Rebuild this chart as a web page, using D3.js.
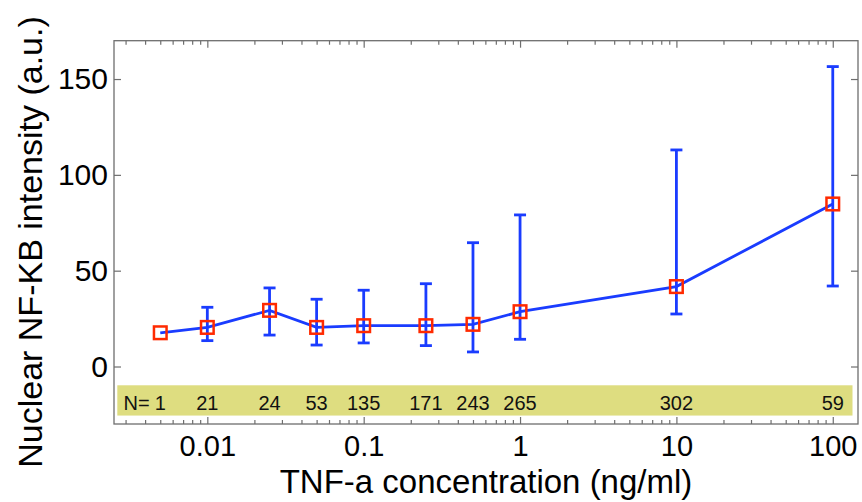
<!DOCTYPE html>
<html>
<head>
<meta charset="utf-8">
<script src="https://cdn.jsdelivr.net/npm/d3@7"></script>
<style>
  html, body { margin: 0; padding: 0; background: #fff; }
  svg { display: block; font-family: "Liberation Sans", Arial, Helvetica, sans-serif; }
</style>
</head>
<body>
<svg id="chart" width="862" height="502"></svg>
<script>
// ---- data ----
const concentrations = [0.005, 0.01, 0.025, 0.05, 0.1, 0.25, 0.5, 1, 10, 100];
const meanValues     = [17.6, 20.4, 29.3, 20.4, 21.3, 21.3, 22.0, 28.6, 41.7, 84.8];
const upperValues    = [17.6, 30.9, 41.0, 35.1, 39.8, 43.2, 64.6, 79.1, 113.0, 156.5];
const lowerValues    = [17.6, 13.5, 16.4, 11.2, 12.3, 10.9, 7.6, 14.2, 27.4, 42.0];
const nCounts        = [1, 21, 24, 53, 135, 171, 243, 265, 302, 59];
const xTickValues    = [0.01, 0.1, 1, 10, 100];
const xTickLabels    = ["0.01", "0.1", "1", "10", "100"];
const yTickValues    = [0, 50, 100, 150];
const yTickLabels    = ["0", "50", "100", "150"];
const xTitle = "TNF-a concentration (ng/ml)";
const yTitle = "Nuclear NF-KB intensity (a.u.)";

// ---- layout ----
const L = 114, R = 858, T = 40.7, B = 424;
const svg = d3.select("#chart");
const x = d3.scaleLog().domain([0.00253, 145]).range([L, R]);
const y = d3.scaleLinear().domain([-30, 170]).range([B, T]);

const axisColor = "#6e6e6e";
const blue = "#1a3cff";
const red = "#ff2a00";

// N band
svg.append("rect")
  .attr("x", L + 3.3).attr("y", y(-9.8))
  .attr("width", R - 5.5 - (L + 3.3)).attr("height", y(-25.6) - y(-9.8))
  .attr("fill", "#dedd80");

const nG = svg.append("g").attr("font-size", 20).attr("fill", "#111");
const nTexts = nG.selectAll("text.n").data(nCounts).join("text")
  .attr("class", "n")
  .attr("x", (d, i) => x(concentrations[i]))
  .attr("y", 410)
  .attr("text-anchor", "middle")
  .text(d => d);
const firstW = nTexts.node().getComputedTextLength();
nG.append("text")
  .attr("x", x(concentrations[0]) - firstW / 2 - 5)
  .attr("y", 410)
  .attr("text-anchor", "end")
  .text("N=");

// axes
const minorX = x.ticks().filter(v => !xTickValues.some(t => Math.abs(t - v) / t < 1e-9));

function styleAxis(g, fs) {
  g.select(".domain").remove();
  g.selectAll(".tick line").attr("stroke", axisColor).attr("stroke-width", 1.2);
  g.selectAll(".tick text").attr("fill", "#000").attr("font-size", fs || 30)
    .attr("font-family", "Liberation Sans, Arial, sans-serif");
}

svg.append("g").attr("transform", `translate(0,${B})`)
  .call(d3.axisBottom(x).tickValues(minorX).tickSize(-4).tickFormat(""))
  .call(styleAxis);
svg.append("g").attr("transform", `translate(0,${B})`)
  .call(d3.axisBottom(x).tickValues(xTickValues).tickSize(-7).tickPadding(11.5)
        .tickFormat((d, i) => xTickLabels[i]))
  .call(g => styleAxis(g, 29));
svg.append("g").attr("transform", `translate(0,${T})`)
  .call(d3.axisTop(x).tickValues(minorX).tickSize(-4).tickFormat(""))
  .call(styleAxis);
svg.append("g").attr("transform", `translate(0,${T})`)
  .call(d3.axisTop(x).tickValues(xTickValues).tickSize(-7).tickFormat(""))
  .call(styleAxis);
svg.append("g").attr("transform", `translate(${L},0)`)
  .call(d3.axisLeft(y).tickValues(yTickValues).tickSize(-7).tickPadding(6)
        .tickFormat((d, i) => yTickLabels[i]))
  .call(g => styleAxis(g, 30));
svg.append("g").attr("transform", `translate(${R},0)`)
  .call(d3.axisRight(y).tickValues(yTickValues).tickSize(-7).tickFormat(""))
  .call(styleAxis);

// box
svg.append("rect").attr("x", L).attr("y", T).attr("width", R - L).attr("height", B - T)
  .attr("fill", "none").attr("stroke", axisColor).attr("stroke-width", 1.3);

// data
const pts = concentrations.map((c, i) => ({ c, m: meanValues[i], hi: upperValues[i], lo: lowerValues[i] }));

const eb = svg.append("g").attr("stroke", blue).attr("stroke-width", 2.8).attr("fill", "none");
pts.filter(p => p.hi !== p.lo).forEach(p => {
  const cx = x(p.c);
  eb.append("line").attr("x1", cx).attr("x2", cx).attr("y1", y(p.lo)).attr("y2", y(p.hi));
  eb.append("line").attr("x1", cx - 6).attr("x2", cx + 6).attr("y1", y(p.lo)).attr("y2", y(p.lo));
  eb.append("line").attr("x1", cx - 6).attr("x2", cx + 6).attr("y1", y(p.hi)).attr("y2", y(p.hi));
});

svg.append("path").datum(pts)
  .attr("d", d3.line().x(p => x(p.c)).y(p => y(p.m)))
  .attr("fill", "none").attr("stroke", blue).attr("stroke-width", 2.8);

svg.append("g").selectAll("rect").data(pts).join("rect")
  .attr("x", p => x(p.c) - 6.3).attr("y", p => y(p.m) - 6.3)
  .attr("width", 12.6).attr("height", 12.6)
  .attr("fill", "none").attr("stroke", red).attr("stroke-width", 2.5);

// titles
svg.append("text")
  .attr("x", (L + R) / 2).attr("y", 493)
  .attr("text-anchor", "middle").attr("font-size", 33).attr("fill", "#000")
  .text(xTitle);
svg.append("text")
  .attr("transform", `translate(42,242) rotate(-90)`)
  .attr("text-anchor", "middle").attr("font-size", 34).attr("fill", "#000")
  .text(yTitle);
</script>
</body>
</html>
